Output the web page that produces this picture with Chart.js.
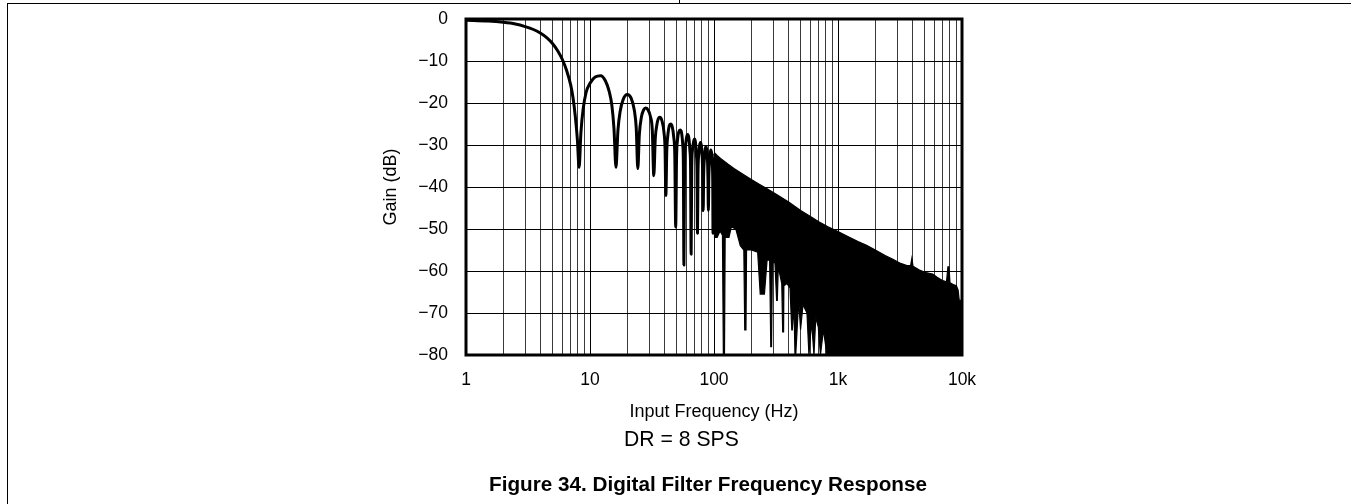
<!DOCTYPE html>
<html>
<head>
<meta charset="utf-8">
<script src="https://cdn.jsdelivr.net/npm/chart.js@4/dist/chart.umd.min.js"></script>
<style>
html,body{margin:0;padding:0;background:#fff;}
body{width:1351px;height:504px;position:relative;overflow:hidden;font-family:"Liberation Sans",Arial,sans-serif;color:#000;}
#wrap{position:absolute;left:0;top:0;width:1351px;height:504px;}
.rule{position:absolute;background:#000;}
#dr{position:absolute;left:624px;top:428px;font-size:21.2px;line-height:21px;white-space:nowrap;}
#cap{position:absolute;left:489px;top:474px;font-size:20.7px;line-height:20.5px;font-weight:bold;white-space:nowrap;}
</style>
</head>
<body>
<div class="rule" style="left:7px;top:3px;width:1344px;height:1px;"></div>
<div class="rule" style="left:7px;top:3px;width:1px;height:501px;"></div>
<div class="rule" style="left:679px;top:0px;width:1px;height:4px;"></div>
<div id="wrap"><canvas id="c"></canvas></div>
<div id="dr">DR = 8 SPS</div>
<div id="cap">Figure 34. Digital Filter Frequency Response</div>
<script>
// ---- data ----
// low-frequency lobes (single trace)
const lobeFreq = [1, 1.5, 2, 2.5, 3, 3.5, 4, 4.5, 5, 5.5, 6, 6.5, 7, 7.3, 7.6, 7.9, 8.17,
  8.45, 8.8, 9.3, 10, 11, 12.2, 13.3, 14.3, 15, 15.6, 16.2,
  16.8, 17.5, 18.5, 20, 21.5, 22.8, 23.6, 24.3,
  25, 26, 27.1, 28.1, 29.3, 30.7, 31.8, 32.7,
  33.6, 34.7, 35.6, 36.6, 38, 39.5, 40.3, 40.9,
  41.6, 42.5, 43.6, 44.7, 46, 47.3, 48.3, 49.1,
  49.9, 50.9, 52.1, 53.3, 54.7, 56, 56.6, 57.2,
  57.9, 59, 60.3, 61.5, 62.8, 64, 64.7, 65.4,
  66.1, 67.2, 68.5, 69.7, 71, 72.2, 72.9, 73.6,
  74.3, 75.5, 76.7, 77.8, 79.2, 80.5, 81.1, 81.8,
  82.5, 83.7, 84.9, 86, 87.5, 88.8, 89.4, 90.1,
  90.8, 92, 93.1, 94.2, 95.7, 97.2, 97.7, 98.2, 99, 100];
const lobeGain = [-0.3, -0.5, -0.8, -1.2, -1.8, -2.5, -3.4, -4.5, -5.9, -7.6, -9.7, -12.4, -15.8, -18.8, -23, -28.5, -35.3,
  -27, -21.5, -17.5, -15.3, -13.8, -13.5, -14.7, -17.3, -20.5, -26, -35.3,
  -26.5, -22, -19.2, -18, -18.9, -21.8, -26, -35.6,
  -27.5, -23.3, -21.6, -21.2, -21.6, -23.2, -26.5, -37.3,
  -28.5, -25, -23.7, -23.4, -24.2, -27, -31, -42,
  -31.5, -27.5, -25.4, -25, -25.6, -28, -32.5, -49.5,
  -33, -28.5, -26.8, -26.4, -27, -30, -34, -58.6,
  -34.5, -30, -28, -27.5, -28.5, -31.5, -35, -56,
  -35.5, -31, -29.2, -28.6, -29.5, -32.5, -36, -51,
  -36.5, -32, -30, -29.4, -30.3, -33.5, -37, -45.6,
  -37.5, -33, -31, -30.4, -31.2, -34.3, -38, -45.6,
  -38, -34, -32, -31.2, -32, -35, -39, -51, -39, -35];

// dense high-frequency region: upper envelope (ascending) and lower edge (descending)
const bandUpperFreq = [99, 102, 106, 113, 130, 145, 164, 200, 230, 268, 320, 400, 500, 600, 700, 830,
  1000, 1200, 1450, 1700, 2000, 2400, 2800, 3200, 3600, 3850, 3940, 4030, 4500, 5000, 5800, 6300,
  7000, 7500, 7700, 7850, 8000, 8500, 9000, 9300, 9500, 10000];
const bandUpperGain = [-32.3, -32, -32.5, -33.2, -34.6, -35.6, -36.6, -38.2, -39.3, -40.4, -41.8, -43.6, -45.6, -47, -48.3, -49.5,
  -50.6, -51.8, -53, -53.9, -55, -56.3, -57.3, -58.2, -58.7, -58.7, -57, -58.9, -59.7, -60.3, -60.7, -61.5,
  -62.3, -62.6, -59, -59, -62.8, -63.2, -63.5, -64.5, -67, -67];
const bandLowerFreq = [10000, 815, 763, 757, 722, 717, 692, 688, 662, 640, 634, 612, 583, 577, 562, 522, 499, 495, 482, 456, 450, 441, 428, 424,
  410, 388, 366, 364, 358, 352, 330, 324, 320, 310, 296, 291, 287, 281, 268, 255, 236, 225, 200,
  183, 181, 177, 174, 163, 150, 138, 132, 123, 121.5, 119, 117, 112, 106, 101, 99];
const bandLowerGain = [-80, -80, -74, -74, -80, -80, -73, -73, -71, -80, -80, -72, -80, -80, -70, -68, -74, -74, -67, -80, -80, -68, -74, -74,
  -64, -63, -63.5, -74.5, -74.5, -63, -59, -67, -67, -58, -58, -78, -78, -57.4, -57.4, -65.5, -65.5, -55.5, -55,
  -55, -74, -74, -55, -54, -50, -49.5, -52, -52, -80, -80, -51.5, -50.5, -52, -52, -33];

// axes
const xMajorTicks = [1, 10, 100, 1000, 10000];
const xTickLabels = ['1', '10', '100', '1k', '10k'];
const xMinorMultipliers = [2, 3, 4, 5, 6, 7, 8, 9];
const yTickValues = [0, -10, -20, -30, -40, -50, -60, -70, -80];
const yTickLabels = ['0', '\u221210', '\u221220', '\u221230', '\u221240', '\u221250', '\u221260', '\u221270', '\u221280'];

// ---- build chart ----
const gridFreqs = [];
xMajorTicks.forEach((d, i) => {
  gridFreqs.push(d);
  if (i < xMajorTicks.length - 1) xMinorMultipliers.forEach(m => gridFreqs.push(d * m));
});
gridFreqs.sort((a, b) => a - b);

const lobeData = lobeFreq.map((f, i) => ({x: f, y: lobeGain[i]}));
const bandData = bandUpperFreq.map((f, i) => ({x: f, y: bandUpperGain[i]}))
  .concat(bandLowerFreq.map((f, i) => ({x: f, y: bandLowerGain[i]})));

Chart.defaults.font.family = '"Liberation Sans", Arial, sans-serif';
Chart.defaults.color = '#000';

const PL = 370, PT = 19, PR = 389, PB = 80;
const AREA_LEFT = 466, AREA_BOTTOM = 355, H = 504;

const framePlugin = {
  id: 'frame',
  afterDatasetsDraw(chart) {
    const {ctx, chartArea: a} = chart;
    ctx.save();
    ctx.strokeStyle = '#000';
    ctx.lineWidth = 3;
    ctx.strokeRect(a.left, a.top, a.right - a.left, a.bottom - a.top);
    ctx.restore();
  }
};

new Chart(document.getElementById('c'), {
  type: 'line',
  data: {
    datasets: [
      {
        label: 'band',
        data: bandData,
        borderColor: '#000',
        backgroundColor: '#000',
        borderWidth: 1.2,
        pointRadius: 0,
        fill: 'shape',
        tension: 0,
        order: 2
      },
      {
        label: 'gain',
        data: lobeData,
        borderColor: '#000',
        borderWidth: 3,
        pointRadius: 0,
        fill: false,
        cubicInterpolationMode: 'monotone',
        borderJoinStyle: 'round',
        borderCapStyle: 'round',
        order: 1
      }
    ]
  },
  options: {
    responsive: true,
    maintainAspectRatio: false,
    animation: false,
    events: [],
    layout: {padding: {left: PL, top: PT, right: PR, bottom: PB}},
    plugins: {legend: {display: false}, tooltip: {enabled: false}},
    scales: {
      x: {
        type: 'logarithmic',
        min: 1,
        max: 10000,
        afterFit(scale) { scale.height = H - PB - AREA_BOTTOM; scale.paddingLeft = 0; scale.paddingRight = 0; },
        afterBuildTicks(scale) { scale.ticks = gridFreqs.map(v => ({value: v})); },
        border: {display: false},
        grid: {
          drawTicks: false,
          lineWidth: 1,
          color: ctx => (ctx.tick && xMajorTicks.includes(ctx.tick.value)) ? '#000' : '#3a3a3a'
        },
        ticks: {
          autoSkip: false,
          maxRotation: 0,
          padding: 14.5,
          font: {size: 17.5},
          callback: v => { const k = xMajorTicks.indexOf(v); return k >= 0 ? xTickLabels[k] : ''; }
        },
        title: {display: true, text: 'Input Frequency (Hz)', font: {size: 18}, padding: {top: 0, bottom: 1.2}}
      },
      y: {
        type: 'linear',
        min: -80,
        max: 0,
        afterFit(scale) { scale.width = AREA_LEFT - PL; scale.paddingTop = 0; scale.paddingBottom = 0; },
        afterBuildTicks(scale) { scale.ticks = yTickValues.map(v => ({value: v})); },
        border: {display: false},
        grid: {drawTicks: false, lineWidth: 1, color: '#000'},
        ticks: {
          padding: 18,
          font: {size: 17.5},
          callback: v => { const k = yTickValues.indexOf(v); return k >= 0 ? yTickLabels[k] : ''; }
        },
        title: {display: true, text: 'Gain (dB)', font: {size: 18}, padding: {top: 10.2, bottom: 0}}
      }
    }
  },
  plugins: [framePlugin]
});
</script>
</body>
</html>
